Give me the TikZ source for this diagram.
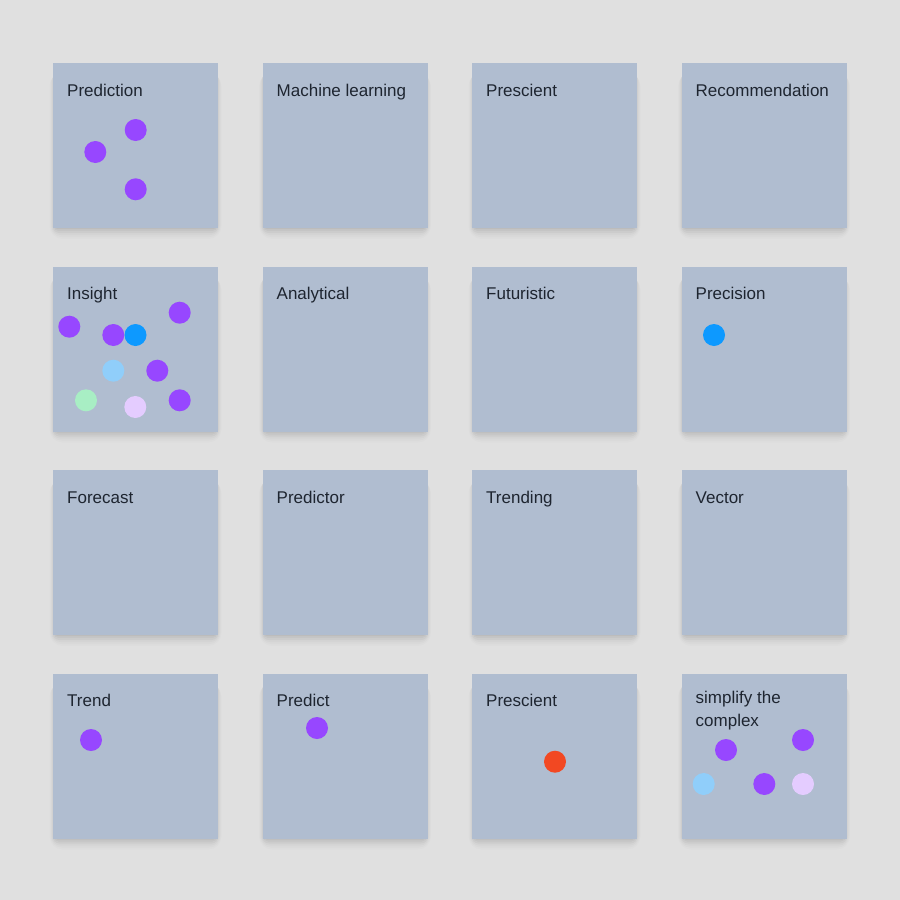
\documentclass[tikz,border=0pt]{standalone}
\usepackage{fontspec}
\setmainfont{Liberation Sans}
\definecolor{bg}{HTML}{E0E0E0}
\definecolor{card}{HTML}{B0BDD0}
\definecolor{ink}{HTML}{1E2530}
\definecolor{dpurple}{HTML}{9747FF}
\definecolor{dblue}{HTML}{0D99FF}
\definecolor{dlblue}{HTML}{90CEFA}
\definecolor{dgreen}{HTML}{A8EEC4}
\definecolor{dlav}{HTML}{E4CCFF}
\definecolor{dred}{HTML}{F24822}
\tikzset{
  dot/.style={circle,inner sep=0pt,minimum size=22pt},
  lbl/.style={anchor=base west,inner sep=0pt,text=ink,font=\fontsize{17}{23}\selectfont,align=left},
}
\newcommand{\card}[4]{% name, x, y, label
  \foreach \k/\o in {1/0.05,3/0.045,5/0.035,7/0.03,9/0.02,11/0.015,13/0.01}{
    \fill[black,opacity=\o,rounded corners=\k pt] (#2+3-\k*0.5,#3+10) rectangle (#2+162+\k*0.5,#3+163+\k);
  }
  \fill[card] (#2,#3) rectangle coordinate[pos=0] (#1) (#2+165,#3+165);
  \node[lbl] (#1-t) at (#2+14,#3+33) {#4};
}
\begin{document}
\begin{tikzpicture}[x=1pt,y=-1pt]
\fill[bg] (0,0) rectangle (900,900);
\useasboundingbox (0,0) rectangle (900,900);
\card{c11}{53}{63}{Prediction}
\card{c12}{262.5}{63}{Machine learning}
\card{c13}{472}{63}{Prescient}
\card{c14}{681.5}{63}{Recommendation}
\card{c21}{53}{266.5}{Insight}
\card{c22}{262.5}{266.5}{Analytical}
\card{c23}{472}{266.5}{Futuristic}
\card{c24}{681.5}{266.5}{Precision}
\card{c31}{53}{470}{Forecast}
\card{c32}{262.5}{470}{Predictor}
\card{c33}{472}{470}{Trending}
\card{c34}{681.5}{470}{Vector}
\card{c41}{53}{673.5}{Trend}
\card{c42}{262.5}{673.5}{Predict}
\card{c43}{472}{673.5}{Prescient}
\card{c44}{681.5}{673.5}{}
\node[lbl] (c44-l) at (681.5+14,726.7) {simplify the\\complex};
% dots
\node[dot,fill=dpurple] (p1) at (135.7,130) {};
\node[dot,fill=dpurple] (p2) at (95.3,152) {};
\node[dot,fill=dpurple] (p3) at (135.7,189.3) {};
\node[dot,fill=dpurple] (i1) at (69.3,326.7) {};
\node[dot,fill=dpurple] (i2) at (113.3,335) {};
\node[dot,fill=dblue] (i3) at (135.5,335) {};
\node[dot,fill=dpurple] (i4) at (179.7,312.7) {};
\node[dot,fill=dlblue] (i5) at (113.3,370.7) {};
\node[dot,fill=dpurple] (i6) at (157.3,370.7) {};
\node[dot,fill=dgreen] (i7) at (86,400.3) {};
\node[dot,fill=dlav] (i8) at (135.3,407) {};
\node[dot,fill=dpurple] (i9) at (179.7,400.3) {};
\node[dot,fill=dblue] (pr1) at (714,335) {};
\node[dot,fill=dpurple] (t1) at (91,740) {};
\node[dot,fill=dpurple] (pd1) at (317,728) {};
\node[dot,fill=dred] (ps1) at (555,761.7) {};
\node[dot,fill=dpurple] (s1) at (726,750) {};
\node[dot,fill=dpurple] (s2) at (803,740) {};
\node[dot,fill=dlblue] (s3) at (703.7,784) {};
\node[dot,fill=dpurple] (s4) at (764.3,784) {};
\node[dot,fill=dlav] (s5) at (803,784) {};
\end{tikzpicture}
\end{document}
